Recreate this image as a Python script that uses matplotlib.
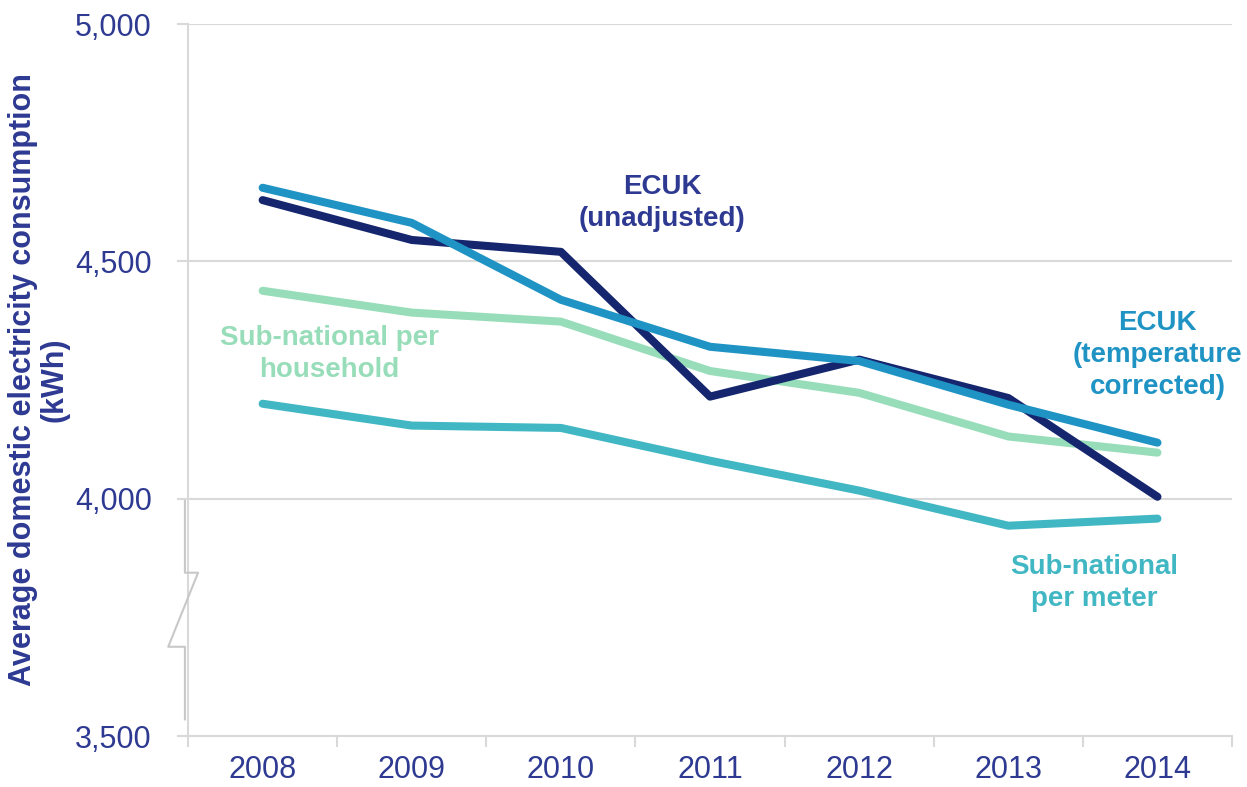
import numpy as np
import matplotlib.pyplot as plt
from matplotlib.ticker import FuncFormatter

plt.rcParams['font.family'] = ['Liberation Sans', 'DejaVu Sans']

# average domestic electricity consumption, kWh
years = ['2008', '2009', '2010', '2011', '2012', '2013', '2014']
ecuk_unadjusted = [4629, 4545, 4520, 4215, 4293, 4212, 4004]
ecuk_temp_corrected = [4655, 4581, 4419, 4320, 4290, 4198, 4118]
subnat_household = [4438, 4392, 4373, 4269, 4223, 4131, 4097]
subnat_meter = [4200, 4154, 4149, 4080, 4017, 3943, 3958]

NAVY = '#15256e'
BLUE = '#1e93c4'
GREEN = '#98ddb9'
TEAL = '#41b7c4'
TEXT = '#2e3a92'
GRID = '#d9d9d9'

fig = plt.figure(figsize=(12.47, 7.87), dpi=100)
ax = fig.add_axes([0.1508, 0.0648, 0.8372, 0.9047])

x = np.arange(len(years))
lw = 5.8
ax.plot(x, subnat_meter, color=TEAL, lw=lw, solid_capstyle='round', zorder=3)
ax.plot(x, subnat_household, color=GREEN, lw=lw, solid_capstyle='round', zorder=3)
ax.plot(x, ecuk_unadjusted, color=NAVY, lw=lw, solid_capstyle='round', zorder=4)
ax.plot(x, ecuk_temp_corrected, color=BLUE, lw=lw, solid_capstyle='round', zorder=5)

ax.set_xlim(-0.5, len(years) - 0.5)
ax.set_ylim(3500, 5000)
ax.set_yticks([3500, 4000, 4500, 5000])
ax.yaxis.set_major_formatter(FuncFormatter(lambda v, p: f'{int(v):,}'))
ax.set_xticks(x)
ax.set_xticklabels(years)
ax.set_xticks(np.arange(-0.5, len(years)), minor=True)

ax.grid(axis='y', color=GRID, lw=1.5)
ax.set_axisbelow(True)
for side in ['top', 'right']:
    ax.spines[side].set_visible(False)
for side in ['left', 'bottom']:
    ax.spines[side].set_color(GRID)
    ax.spines[side].set_linewidth(1.5)

ax.tick_params(axis='y', length=8, width=1.5, color=GRID, pad=18,
               labelsize=22, labelcolor=TEXT)
ax.tick_params(axis='x', which='major', length=0, pad=14,
               labelsize=22, labelcolor=TEXT)
ax.tick_params(axis='x', which='minor', length=8, width=1.5, color=GRID)

ax.set_ylabel('Average domestic electricity consumption\n(kWh)',
              fontsize=22, fontweight='bold', color=TEXT, linespacing=1.05)
ax.yaxis.set_label_coords(-0.114, 0.5)

# axis break marker between 3,500 and 4,000
brk_x = [-0.003, -0.003, 0.0096, -0.019, -0.003, -0.003]
brk_y = [3995, 3844, 3844, 3688, 3688, 3535]
ax.plot(brk_x, brk_y, color='#c8c8c8', lw=1.5, clip_on=False,
        transform=ax.get_yaxis_transform(), zorder=6)

lab = dict(fontsize=20, fontweight='bold', ha='center', va='center',
           linespacing=1.3)
ax.text(2.68, 4622, 'ECUK\n(unadjusted)', color=TEXT, **lab)
ax.text(0.45, 4304, 'Sub-national per\nhousehold', color=GREEN, **lab)
ax.text(6.0, 4302, 'ECUK\n(temperature\ncorrected)', color=BLUE, **lab)
ax.text(5.575, 3823, 'Sub-national\nper meter', color=TEAL, **lab)

fig.savefig('out.png', dpi=100)
